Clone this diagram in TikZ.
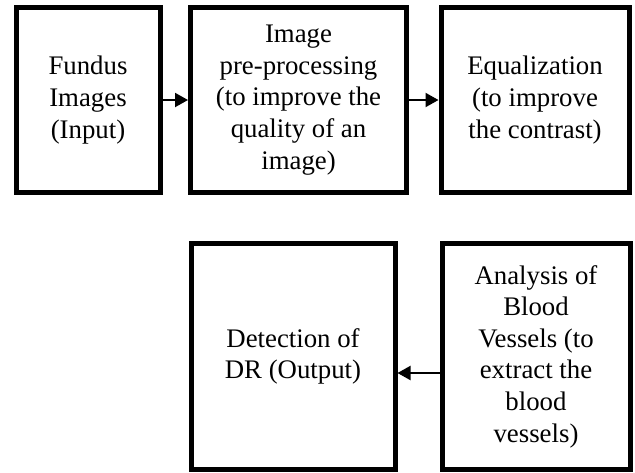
\documentclass[tikz,border=0pt]{standalone}
\usepackage{fontspec}
\setmainfont{Liberation Serif}
\usetikzlibrary{arrows.meta}
\begin{document}
\begin{tikzpicture}[x=0.5pt,y=-0.5pt,
  stage/.style={draw, line width=2.5pt, align=center, inner sep=0pt,
    font=\fontsize{13.4}{15.8}\selectfont},
  flow/.style={line width=1pt, -{Triangle[length=6.5pt,width=7pt]}}]
\useasboundingbox (0,0) rectangle (635,472);
\node[stage, minimum width=72pt, minimum height=92.5pt] (fundus) at (88,100) {Fundus\\Images\\(Input)};
\node[stage, minimum width=108pt, minimum height=92.5pt] (prep) at (298.5,100) {Image\\pre-processing\\(to improve the\\quality of an\\image)};
\node[stage, minimum width=94pt, minimum height=92.5pt] (equal) at (535,100) {Equalization\\(to improve\\the contrast)};
\node[stage, minimum width=102pt, minimum height=113pt] (detect) at (293,356.5) {Detection of\\DR (Output)};
\node[stage, minimum width=94pt, minimum height=113pt] (vessel) at (536,356.5) {Analysis of\\Blood\\Vessels (to\\extract the\\blood\\vessels)};
\draw[flow] (fundus) -- (prep);
\draw[flow] (prep) -- (equal);
\draw[flow] ([yshift=-8.25pt]vessel.west) -- ([yshift=-8.25pt]detect.east);
\end{tikzpicture}
\end{document}
